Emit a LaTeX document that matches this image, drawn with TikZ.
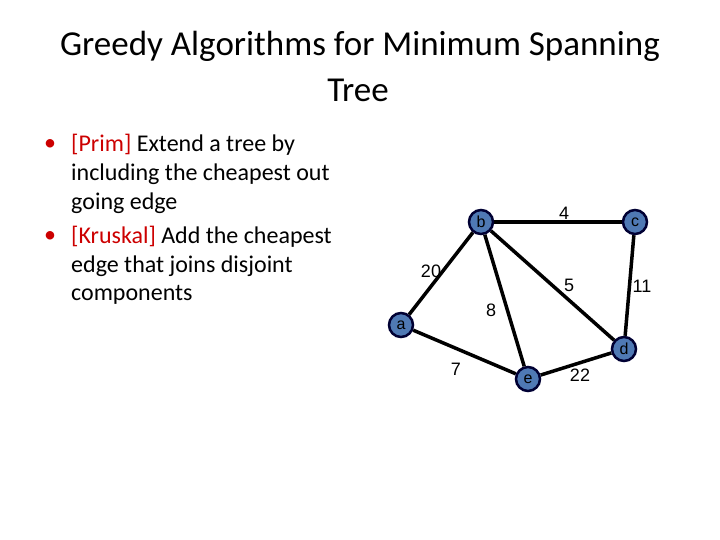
\documentclass[tikz,border=0pt]{standalone}
\usepackage{fontspec}
\setmainfont{Carlito}
\newfontfamily\arialf{Liberation Sans}
\begin{document}
\begin{tikzpicture}[x=1pt,y=-1pt,
  vtx/.style={circle,draw=black!80!blue,line width=2.5pt,fill={rgb,255:red,79;green,121;blue,180},minimum size=24pt,inner sep=0pt,font=\arialf\fontsize{16}{16}\selectfont},
  edge/.style={line width=3.5pt,black},
  wlab/.style={font=\arialf\fontsize{18}{18}\selectfont},
  btxt/.style={anchor=west,font=\fontsize{24}{24}\selectfont,inner sep=0pt}]
\useasboundingbox (0,0) rectangle (720,540);
\node[font=\fontsize{35}{35}\selectfont] (t1) at (360,46) {Greedy Algorithms for Minimum Spanning};
\node[font=\fontsize{35}{35}\selectfont] (t2) at (358,90) {Tree};
\node[btxt,text=red!80!black] (b1) at (44,145) {•};
\node[btxt] (l1) at (71,145) {\textcolor{red!80!black}{[Prim]} Extend a tree by};
\node[btxt] (l2) at (71,174) {including the cheapest out};
\node[btxt] (l3) at (71,203) {going edge};
\node[btxt,text=red!80!black] (b2) at (44,237) {•};
\node[btxt] (l4) at (71,237) {\textcolor{red!80!black}{[Kruskal]} Add the cheapest};
\node[btxt] (l5) at (71,266) {edge that joins disjoint};
\node[btxt] (l6) at (71,295) {components};
\node[vtx] (b) at (481,222) {b};
\node[vtx] (c) at (635,222) {c};
\node[vtx] (a) at (401,325) {a};
\node[vtx] (d) at (624,349) {d};
\node[vtx] (e) at (528,379) {e};
\draw[edge] (b) -- (c);
\draw[edge] (a) -- (b);
\draw[edge] (b) -- (e);
\draw[edge] (b) -- (d);
\draw[edge] (c) -- (d);
\draw[edge] (a) -- (e);
\draw[edge] (e) -- (d);
\node[wlab] (w4) at (564,213) {4};
\node[wlab] (w20) at (431,271) {20};
\node[wlab] (w5) at (569,285) {5};
\node[wlab] (w11) at (642,286) {11};
\node[wlab] (w8) at (491,310) {8};
\node[wlab] (w7) at (456,369) {7};
\node[wlab] (w22) at (580,375) {22};
\end{tikzpicture}
\end{document}
